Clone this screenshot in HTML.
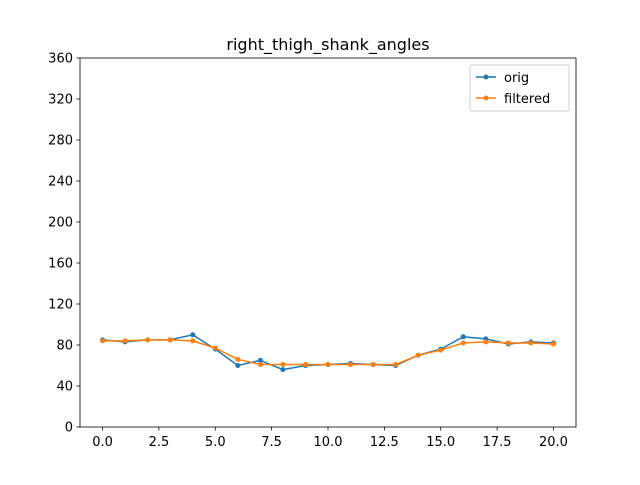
<!DOCTYPE html>
<html><head><meta charset="utf-8"><style>
body{margin:0;background:#fff;font-family:"Liberation Sans","DejaVu Sans",sans-serif;}
svg text{font-family:"DejaVu Sans","Liberation Sans",sans-serif;}
</style></head><body>
<svg id="chart" width="640" height="480" xmlns="http://www.w3.org/2000/svg">
<rect width="640" height="480" fill="#fff"/>
<text x="328" y="50" font-size="16" text-anchor="middle">right_thigh_shank_angles</text>
<g id="axes"></g>
<g id="series"></g>
<rect x="80" y="58" width="496" height="369" fill="none" stroke="#000" stroke-width="0.8"/>
<g>
<rect x="470" y="65" width="99" height="46" rx="2" fill="#fff" fill-opacity="0.8" stroke="#ccc"/>
<g>
<line x1="476" y1="77" x2="496" y2="77" stroke="#1f77b4" stroke-width="1.5"/><circle cx="486" cy="77" r="2.5" fill="#1f77b4"/>
<text x="504" y="82" font-size="13">orig</text></g>
<g>
<line x1="476" y1="98" x2="496" y2="98" stroke="#ff7f0e" stroke-width="1.5"/><circle cx="486" cy="98" r="2.5" fill="#ff7f0e"/>
<text x="504" y="103" font-size="13">filtered</text></g>
</g>
</svg>
<script>
const xValues=[0,1,2,3,4,5,6,7,8,9,10,11,12,13,14,15,16,17,18,19,20];
const origValues=[85,83,85,85,90,76,60,65,56,60,61,62,61,60,70,76,88,86,81,83,82];
const filteredValues=[84,84,85,85,84,77,66,61,61,61,61,61,61,61,70,75,82,83,82,82,81];
const xTicks=[0,2.5,5,7.5,10,12.5,15,17.5,20];
const xTickLabels=["0.0","2.5","5.0","7.5","10.0","12.5","15.0","17.5","20.0"];
const yTicks=[0,40,80,120,160,200,240,280,320,360];
const NS="http://www.w3.org/2000/svg";
const X=v=>80+(v+1)/22*496, Y=v=>427-v/360*369;
const axes=document.getElementById('axes'), ser=document.getElementById('series');
function mk(tag,attrs,parent){const e=document.createElementNS(NS,tag);for(const k in attrs)e.setAttribute(k,attrs[k]);parent.appendChild(e);return e;}
xTicks.forEach((t,i)=>{
 const g=mk('g',{},axes);
 
 
 mk('line',{x1:X(t),x2:X(t),y1:427,y2:430.5,stroke:'#000','stroke-width':0.8},g);
 const tx=mk('text',{x:X(t),y:446,'font-size':13,'text-anchor':'middle'},g);tx.textContent=xTickLabels[i];
});
yTicks.forEach(t=>{
 const g=mk('g',{},axes);
 
 
 mk('line',{x1:76.5,x2:80,y1:Y(t),y2:Y(t),stroke:'#000','stroke-width':0.8},g);
 const tx=mk('text',{x:73,y:Y(t)+4.5,'font-size':13,'text-anchor':'end'},g);tx.textContent=t;
});
function draw(vals,color,name){
 const g=mk('g',{},ser);
 
 
 mk('polyline',{points:vals.map((v,i)=>X(xValues[i])+','+Y(v)).join(' '),fill:'none',stroke:color,'stroke-width':1.5},g);
 vals.forEach((v,i)=>{const c=mk('circle',{cx:X(xValues[i]),cy:Y(v),r:2.5,fill:color},g);
 
 });
}
draw(origValues,'#1f77b4','orig');
draw(filteredValues,'#ff7f0e','filtered');
</script>
</body></html>
